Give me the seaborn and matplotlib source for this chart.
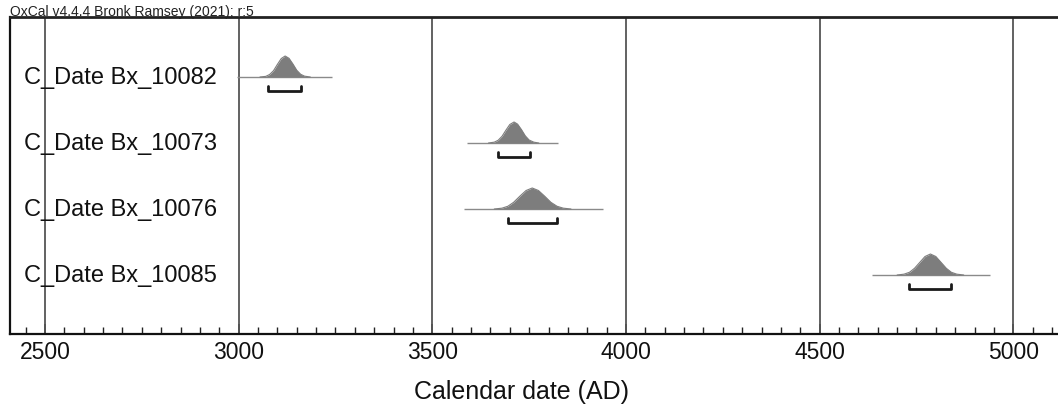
import numpy as np
import pandas as pd
import matplotlib
matplotlib.use("Agg")
import matplotlib.pyplot as plt
import matplotlib.transforms as mtransforms
import seaborn as sns

# ---------------- data ----------------
labels = ["C_Date Bx_10082", "C_Date Bx_10073", "C_Date Bx_10076", "C_Date Bx_10085"]

# full extent of each probability distribution (baseline line)
range_start = [2995, 3590, 3582, 4634]
range_end = [3240, 3825, 3941, 4941]

# probability curves: sampled years and relative heights
curve_years = [
    [3055, 3070, 3080, 3090, 3100, 3110, 3120, 3130, 3140, 3150, 3160, 3170, 3185],
    [3645, 3660, 3670, 3680, 3690, 3700, 3711, 3720, 3730, 3740, 3750, 3762, 3775],
    [3660, 3680, 3695, 3710, 3726, 3742, 3758, 3774, 3790, 3806, 3822, 3838, 3858],
    [4700, 4718, 4732, 4745, 4759, 4772, 4786, 4800, 4813, 4827, 4840, 4854, 4872],
]
curve_heights = [
    [0.0, 0.03, 0.12, 0.30, 0.60, 0.88, 1.0, 0.89, 0.62, 0.32, 0.13, 0.04, 0.0],
    [0.0, 0.04, 0.13, 0.32, 0.61, 0.88, 1.0, 0.90, 0.64, 0.34, 0.14, 0.04, 0.0],
    [0.0, 0.04, 0.13, 0.32, 0.61, 0.88, 1.0, 0.88, 0.61, 0.32, 0.13, 0.04, 0.0],
    [0.0, 0.04, 0.13, 0.32, 0.61, 0.88, 1.0, 0.88, 0.61, 0.32, 0.13, 0.04, 0.0],
]

# 95.4% ranges (brackets)
bracket_start = [3075, 3670, 3696, 4732]
bracket_end = [3162, 3753, 3822, 4840]

x_ticks = [2500, 3000, 3500, 4000, 4500, 5000]
x_label = "Calendar date (AD)"
header = "OxCal v4.4.4 Bronk Ramsey (2021); r:5"

# ---------------- styling ----------------
sns.set_style("white")
plt.rcParams["font.family"] = ["Liberation Sans", "DejaVu Sans"]

W, H = 1058, 414
fig = plt.figure(figsize=(W / 100, H / 100), dpi=100)
ax_left, ax_top, ax_bottom = 10, 18, 335
ax = fig.add_axes([ax_left / W, (H - ax_bottom) / H, 1.0 - ax_left / W, (ax_bottom - ax_top) / H])

px_per_year = (1013.3 - 45) / 2500.0
ax.set_xlim(2500 - (45 - ax_left) / px_per_year, 5000 + (W - 1013.3) / px_per_year)

row_px = 66.0
ax.set_ylim(3 + (ax_bottom - 276) / row_px, -(78 - ax_top) / row_px)

peak_h = 21 / row_px
brk_off = 14 / row_px
brk_tick = 5 / row_px

fill_col = "#7d7d7d"
base_col = "#8a8a8a"

for i in range(len(labels)):
    # baseline
    ax.plot([range_start[i], range_end[i]], [i, i], color=base_col, lw=1.0, zorder=3,
            solid_capstyle="butt")
    yrs = np.array(curve_years[i], dtype=float)
    hts = np.array(curve_heights[i], dtype=float)
    df = pd.DataFrame({"year": yrs, "y": i - hts * peak_h})
    ax.fill_between(df["year"], i, df["y"], color=fill_col, lw=0, zorder=4)
    sns.lineplot(data=df, x="year", y="y", ax=ax, color=fill_col, lw=0.8, sort=True,
                 zorder=4, legend=False)
    # bracket
    yb = i + brk_off
    ax.plot([bracket_start[i], bracket_start[i], bracket_end[i], bracket_end[i]],
            [yb - brk_tick, yb, yb, yb - brk_tick], color="#1a1a1a", lw=2.0, zorder=5,
            solid_joinstyle="round", solid_capstyle="round")
    # label
    trans = mtransforms.blended_transform_factory(fig.transFigure, ax.transData)
    ax.text(24 / W, i, labels[i], transform=trans, ha="left", va="center",
            fontsize=17, color="#111111", zorder=6)

ax.set_xticks(x_ticks)
ax.set_xticks(np.arange(2450, 5101, 50), minor=True)
ax.set_xticklabels([str(t) for t in x_ticks])
ax.set_yticks([])
ax.tick_params(axis="x", which="both", bottom=True, top=False)
ax.tick_params(axis="x", which="major", direction="in", length=7, width=1.2,
               color="#222222", labelsize=16.5, pad=4, labelcolor="#111111")
ax.tick_params(axis="x", which="minor", direction="in", length=5, width=1.0,
               color="#222222")
ax.grid(False)
for t in x_ticks:
    ax.axvline(t, color="#555555", lw=1.3, zorder=1)

ax.set_xlabel(x_label, fontsize=18, color="#111111")
ax.xaxis.set_label_coords((521.5 - ax_left) / (W - ax_left), -(392 - ax_bottom) / (ax_bottom - ax_top),
                          transform=ax.transAxes)
ax.xaxis.label.set_va("center")
ax.set_ylabel("")

for s in ["left", "bottom"]:
    ax.spines[s].set_visible(True)
    ax.spines[s].set_color("#111111")
    ax.spines[s].set_linewidth(1.6)
ax.spines["top"].set_visible(True)
ax.spines["top"].set_color("#222222")
ax.spines["top"].set_linewidth(2.0)
ax.spines["right"].set_visible(False)

fig.text(ax_left / W, 1 - 12 / H, header, fontsize=10, ha="left", va="center", color="#222222")

fig.savefig("out.png", dpi=100, facecolor="white")
